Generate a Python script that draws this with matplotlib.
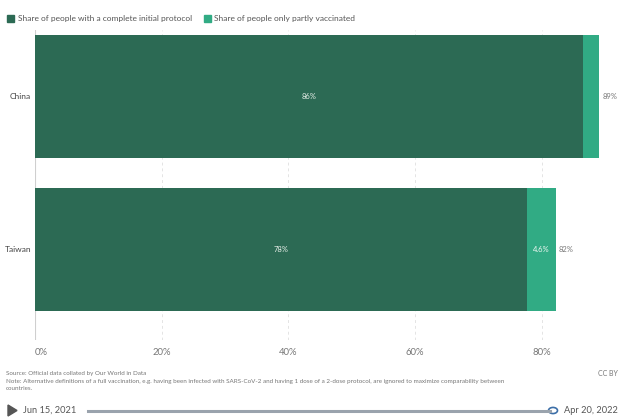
import matplotlib
matplotlib.use("Agg")
from matplotlib import pyplot as plt
from matplotlib.lines import Line2D
from matplotlib.patches import Rectangle, Polygon, Circle

plt.rcParams['font.family'] = ['Lato', 'DejaVu Sans']

countries = ["China", "Taiwan"]
complete = [86.4, 77.6]
partly = [2.6, 4.6]
complete_labels = ["86%", "78%"]
partly_labels = ["", "4.6%"]
total_labels = ["89%", "82%"]
ticks = [0, 20, 40, 60, 80]
tick_labels = ["0%", "20%", "40%", "60%", "80%"]

dark = "#2c6a54"
light = "#31ab84"
grey = "#777777"

W, H = 618, 420
fig = plt.figure(figsize=(W / 100, H / 100), dpi=100)


def fx(px):
    return px / W


def fy(py):
    return 1 - py / H


# axes from x=35..618 px, y=30..340 px
ax = fig.add_axes([fx(35), fy(340), fx(618 - 35), (340 - 30) / H])
ax.set_xlim(0, 92)
ax.set_ylim(1.59, -0.435)
for s in ax.spines.values():
    s.set_visible(False)
ax.set_xticks([])
ax.set_yticks([])

for t in ticks[1:]:
    ax.axvline(t, color="#e4e4e4", lw=0.7, ls=(0, (3, 3)), zorder=0)
ax.axvline(0, color="#cfcfcf", lw=0.8, zorder=0)

ypos = list(range(len(countries)))
ax.barh(ypos, complete, height=0.8, color=dark, zorder=2)
ax.barh(ypos, partly, left=complete, height=0.8, color=light, zorder=2)

for i, y in enumerate(ypos):
    ax.text(complete[i] / 2, y, complete_labels[i], ha="center", va="center",
            color="#e8efe9", fontsize=5.5)
    if partly_labels[i]:
        ax.text(complete[i] + partly[i] / 2, y, partly_labels[i], ha="center",
                va="center", color="#eef7f2", fontsize=5.5)
    ax.text(complete[i] + partly[i] + 0.5, y, total_labels[i], ha="left",
            va="center", color=grey, fontsize=5.5)
    ax.text(-0.6, y, countries[i], ha="right", va="center", color="#444444",
            fontsize=6)

for t, lab in zip(ticks, tick_labels):
    ax.text(t, 1.67, lab, ha="left" if t == 0 else "center", va="center",
            color=grey, fontsize=6.8, clip_on=False)

# legend
fig.patches.append(Rectangle((fx(7), fy(22)), fx(7), 7 / H, color=dark,
                             transform=fig.transFigure))
fig.text(fx(18), fy(18), "Share of people with a complete initial protocol",
         fontsize=6, color="#555555", va="center")
fig.patches.append(Rectangle((fx(204), fy(22)), fx(7), 7 / H, color=light,
                             transform=fig.transFigure))
fig.text(fx(214), fy(18), "Share of people only partly vaccinated",
         fontsize=6, color="#555555", va="center")

# footer
fig.text(fx(6), fy(373), "Source: Official data collated by Our World in Data",
         fontsize=4.5, color=grey, va="center")
fig.text(fx(6), fy(381),
         "Note: Alternative definitions of a full vaccination, e.g. having been infected with "
         "SARS-CoV-2 and having 1 dose of a 2-dose protocol, are ignored to maximize comparability between",
         fontsize=4.5, color=grey, va="center")
fig.text(fx(6), fy(389), "countries.", fontsize=4.5, color=grey, va="center")
fig.text(fx(618), fy(373), "CC BY", fontsize=5, color=grey, va="center", ha="right")

# timeline
fig.patches.append(Polygon([(fx(8), fy(405)), (fx(8), fy(416)), (fx(17), fy(410.5))],
                           closed=True, color="#555555", transform=fig.transFigure))
fig.text(fx(23), fy(410.5), "Jun 15, 2021", fontsize=6.7, color="#555555", va="center")
fig.lines.append(Line2D([fx(88), fx(550)], [fy(410.5), fy(410.5)], color="#9aa3ad",
                        lw=2.2, transform=fig.transFigure))
fig.patches.append(Circle((fx(553), fy(410.5)), 4.5 / W, transform=fig.transFigure,
                          facecolor="white", edgecolor="#3c6fa8", lw=1.2))
fig.text(fx(564), fy(410.5), "Apr 20, 2022", fontsize=6.7, color="#555555", va="center")

fig.savefig("out.png", dpi=100)
